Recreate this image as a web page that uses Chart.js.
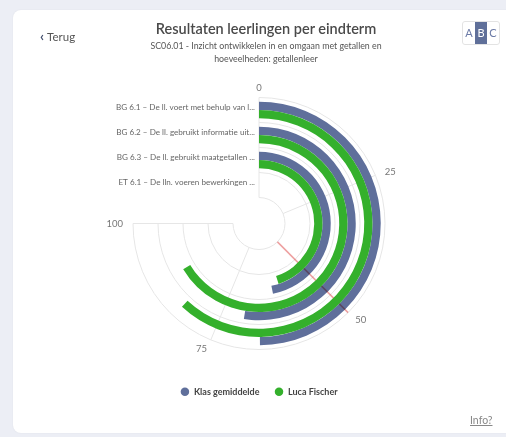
<!DOCTYPE html>
<html>
<head>
<meta charset="utf-8">
<script src="https://cdn.jsdelivr.net/npm/chart.js@4.4.0/dist/chart.umd.min.js"></script>
<style>
  html,body{margin:0;padding:0;width:506px;height:437px;overflow:hidden;background:#eceef5;font-family:Lato,sans-serif;}
  .card{position:absolute;left:13px;top:10px;width:510px;height:423px;background:#fff;border-radius:8px;box-shadow:0 0 2px rgba(0,0,0,0.06);}
  #wrap{position:absolute;left:0;top:0;width:506px;height:437px;}
  .back{position:absolute;left:40px;top:27px;font-size:11.5px;color:#555;}
  .back b{font-size:14px;color:#44506e;margin-right:3px;}
  .title{position:absolute;left:0;width:506px;top:20px;text-align:center;font-size:14.5px;font-weight:600;color:#4a4a4a;padding-left:26px;box-sizing:border-box;}
  .sub{position:absolute;left:0;width:506px;top:39px;text-align:center;font-size:8.8px;line-height:13px;color:#555;padding-left:26px;box-sizing:border-box;}
  .abc{position:absolute;left:462px;top:21px;width:36px;height:22px;border:1px solid #e3e3e3;border-radius:3px;font-size:11px;color:#6b7aa6;display:flex;align-items:center;}
  .abc span{display:block;width:12px;text-align:center;line-height:22px;}
  .abc .on{background:#5f6f99;color:#fff;}
  .info{position:absolute;left:470px;top:414px;font-size:10.5px;color:#888;text-decoration:underline;}
</style>
</head>
<body>
<div class="card"></div>
<div id="wrap"><canvas id="c" width="506" height="437"></canvas></div>
<div class="back"><b>‹</b>Terug</div>
<div class="title">Resultaten leerlingen per eindterm</div>
<div class="sub">SC06.01 - Inzicht ontwikkelen in en omgaan met getallen en<br>hoeveelheden: getallenleer</div>
<div class="abc"><span>A</span><span class="on">B</span><span>C</span></div>
<div class="info">Info?</div>
<script>
// ---- data ----
const categories = [
  "BG 6.1 – De ll. voert met behulp van l...",
  "BG 6.2 – De ll. gebruikt informatie uit...",
  "BG 6.3 – De ll. gebruikt maatgetallen ...",
  "ET 6.1 – De lln. voeren bewerkingen ..."
];
const seriesNames = ["Klas gemiddelde", "Luca Fischer"];
const klasValues = [66.5, 70, 62.5, 0];
const lucaValues = [82.5, 88.5, 60, 0];
const axisTicks = [0, 25, 50, 75, 100];
const axisMax = 100;
const markValue = 50;

const colors = ["#5f6f9b", "#34b02c"];

// build doughnut rings (outermost first)
const gapW = 4.25, barW = 8.25;
const datasets = [];
function spacer(w){ datasets.push({data:[axisMax], backgroundColor:['rgba(0,0,0,0)'], weight:w, borderWidth:0, order:2, isSpacer:true}); }
spacer(gapW);
categories.forEach((c, i) => {
  datasets.push({label: seriesNames[0], data:[klasValues[i], axisMax - klasValues[i]], backgroundColor:[colors[0], 'rgba(0,0,0,0)'], weight:barW, borderWidth:0, order:1, series:0});
  datasets.push({label: seriesNames[1], data:[lucaValues[i], axisMax - lucaValues[i]], backgroundColor:[colors[1], 'rgba(0,0,0,0)'], weight:barW, borderWidth:0, order:0, series:1});
  spacer(i < categories.length - 1 ? gapW * 2 : gapW);
});
const firstKlasIndex = datasets.findIndex(d => d.series === 0);

function geom(chart) {
  const arc0 = chart.getDatasetMeta(0).data[0];
  const last = chart.getDatasetMeta(chart.data.datasets.length - 1).data[0];
  return { cx: arc0.x, cy: arc0.y, R: arc0.outerRadius, r0: last.innerRadius };
}

const polarGrid = {
  id: 'polarGrid',
  beforeDatasetsDraw(chart) {
    const ctx = chart.ctx;
    const { cx, cy, R, r0 } = geom(chart);
    const n = categories.length, band = (R - r0) / n;
    const a0 = -Math.PI / 2, sweep = Math.PI * 1.5;
    const ang = v => a0 + v / axisMax * sweep;
    ctx.save();
    ctx.strokeStyle = '#e6e6e6';
    ctx.lineWidth = 1;
    for (let k = 0; k <= n; k++) {
      ctx.beginPath();
      ctx.arc(cx, cy, r0 + k * band, a0, a0 + sweep);
      ctx.stroke();
    }
    axisTicks.forEach(t => {
      if (t === markValue) return;
      const a = ang(t);
      ctx.beginPath();
      ctx.moveTo(cx + r0 * Math.cos(a), cy + r0 * Math.sin(a));
      ctx.lineTo(cx + R * Math.cos(a), cy + R * Math.sin(a));
      ctx.stroke();
    });
    ctx.restore();
  },
  afterDatasetDraw(chart, args) {
    if (args.index !== firstKlasIndex) return;
    // marker line, drawn after the class bars and below the student bars
    const ctx = chart.ctx;
    const { cx, cy, R, r0 } = geom(chart);
    const am = -Math.PI / 2 + markValue / axisMax * Math.PI * 1.5;
    ctx.save();
    ctx.globalCompositeOperation = 'multiply';
    ctx.strokeStyle = 'rgb(238,160,160)';
    ctx.lineWidth = 1.5;
    ctx.beginPath();
    ctx.moveTo(cx + r0 * Math.cos(am), cy + r0 * Math.sin(am));
    ctx.lineTo(cx + R * Math.cos(am), cy + R * Math.sin(am));
    ctx.stroke();
    ctx.restore();
  },
  afterDatasetsDraw(chart) {
    const ctx = chart.ctx;
    const { cx, cy, R, r0 } = geom(chart);
    const n = categories.length, band = (R - r0) / n;
    const a0 = -Math.PI / 2, sweep = Math.PI * 1.5;
    ctx.save();
    ctx.font = '9.5px Lato';
    ctx.fillStyle = '#777';
    ctx.textBaseline = 'middle';
    axisTicks.forEach(t => {
      const a = a0 + t / axisMax * sweep;
      const rr = R + 10;
      const x = cx + rr * Math.cos(a), y = cy + rr * Math.sin(a);
      const dx = Math.cos(a);
      ctx.textAlign = dx > 0.1 ? 'left' : (dx < -0.1 ? 'right' : 'center');
      ctx.fillText(String(t), x, y);
    });
    ctx.font = '8.1px Lato';
    ctx.fillStyle = '#666';
    ctx.textAlign = 'right';
    categories.forEach((c, i) => {
      const rr = R - (i + 0.5) * band;
      ctx.fillText(c, cx - 4, cy - rr - 3);
    });
    ctx.restore();
  }
};

new Chart(document.getElementById('c'), {
  type: 'doughnut',
  data: { labels: ['value', 'rest'], datasets },
  options: {
    responsive: false,
    animation: false,
    events: [],
    circumference: 270,
    rotation: 0,
    cutout: 26,
    hoverOffset: 0,
    layout: { padding: { left: 133, right: 121, top: 74.8, bottom: 30.8 } },
    plugins: {
      tooltip: { enabled: false },
      legend: {
        position: 'bottom',
        onClick: null,
        labels: {
          usePointStyle: true,
          pointStyle: 'circle',
          boxWidth: 9, boxHeight: 6,
          padding: 15,
          color: '#444',
          font: { family: 'Lato', size: 9, weight: 'bold' },
          generateLabels: () => seriesNames.map((s, i) => ({
            text: s, fillStyle: colors[i], strokeStyle: colors[i], lineWidth: 0,
            pointStyle: 'circle', hidden: false, fontColor: '#444'
          }))
        }
      }
    }
  },
  plugins: [polarGrid]
});
</script>
</body>
</html>
